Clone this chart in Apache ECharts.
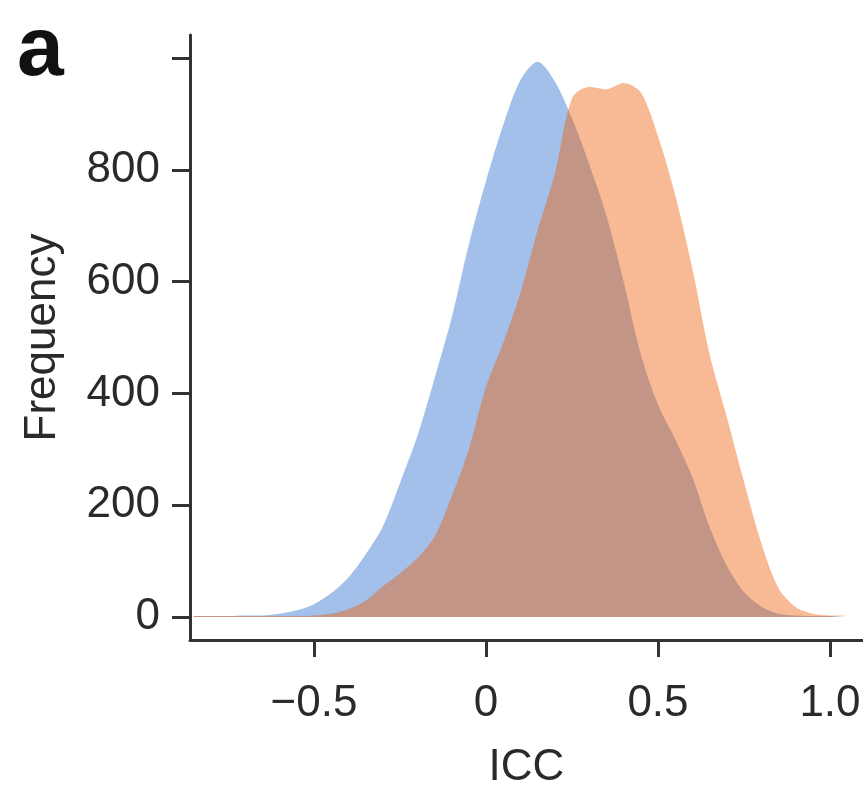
<!DOCTYPE html>
<html><head><meta charset="utf-8">
<script src="https://cdn.jsdelivr.net/npm/echarts@6/dist/echarts.min.js"></script>
<style>html,body{margin:0;padding:0;background:#fff}#c{width:863px;height:785px}</style>
</head><body><div id="c"></div>
<script>
const icc = [-0.85,-0.8,-0.75,-0.7,-0.65,-0.6,-0.55,-0.5,-0.45,-0.4,-0.35,-0.3,-0.25,-0.2,-0.15,-0.1,-0.05,0,0.05,0.1,0.15,0.2,0.25,0.3,0.35,0.4,0.45,0.5,0.55,0.6,0.65,0.7,0.75,0.8,0.85,0.9,0.95,1.0,1.05];
const blueFreq = [2,2,2,3,3,6,12,23,43,71,112,162,240,323,426,535,666,780,880,960,993,958,892,810,718,600,470,380,318,250,161,92,45,19,6,3,2,2,2];
const orangeFreq = [2,2,2,2,2,2,2,3,6,14,29,55,78,105,143,215,300,412,490,580,692,793,928,948,944,955,938,860,755,623,470,358,242,133,52,18,6,3,3];
const xTicks = [-0.5,0,0.5,1.0];
const xTickLabels = ['\u22120.5','0','0.5','1.0'];
const yTicks = [0,200,400,600,800,1000];
const yTickLabels = [0,200,400,600,800];

const chart = echarts.init(document.getElementById('c'), null, {renderer:'canvas'});
const axisCol = '#333333';
const txtCol = '#2a2a2a';
const font = 'Liberation Sans, Arial, Helvetica, sans-serif';
chart.setOption({
  animation:false,
  backgroundColor:'#ffffff',
  grid:{left:190, top:35, right:0, bottom:145, containLabel:false, outerBoundsMode:'none'},
  xAxis:{
    type:'value', min:-0.8605, max:1.096,
    splitLine:{show:false},
    axisLine:{show:true, onZero:false, lineStyle:{color:axisCol, width:3}},
    axisTick:{show:true, length:17, lineStyle:{color:axisCol, width:3}, customValues:xTicks},
    axisLabel:{customValues:xTicks, margin:42, fontSize:44, fontFamily:font, color:txtCol,
      formatter:function(v){const i=xTicks.indexOf(v);return i>=0?xTickLabels[i]:'';}},
    name:'ICC', nameLocation:'middle', nameGap:106,
    nameTextStyle:{fontSize:44, fontFamily:font, color:txtCol}
  },
  yAxis:{
    type:'value', min:-41, max:1041,
    splitLine:{show:false},
    axisLine:{show:true, onZero:false, lineStyle:{color:axisCol, width:3}},
    axisTick:{show:true, length:18, lineStyle:{color:axisCol, width:3}, customValues:yTicks},
    axisLabel:{customValues:yTickLabels, margin:30, fontSize:44, fontFamily:font, color:txtCol},
    name:'Frequency', nameLocation:'middle', nameGap:125, nameRotate:90,
    nameTextStyle:{fontSize:44, fontFamily:font, color:txtCol}
  },
  graphic:[{type:'text', left:17, top:10, style:{text:'a', font:'bold 84px Liberation Sans, Arial, sans-serif', fill:'#111'}}],
  series:[
    {type:'line', name:'blue', data:icc.map((x,i)=>[x, blueFreq[i]]), smooth:0.3, symbol:'none',
     lineStyle:{width:0, color:'#a2c0e9'}, areaStyle:{color:'#a2c0e9', opacity:1}, z:2},
    {type:'line', name:'orange', data:icc.map((x,i)=>[x, orangeFreq[i]]), smooth:0.3, symbol:'none',
     lineStyle:{width:0, color:'rgba(238,90,0,0.42)'}, areaStyle:{color:'rgba(238,90,0,0.42)', opacity:1}, z:3}
  ]
});
</script></body></html>
